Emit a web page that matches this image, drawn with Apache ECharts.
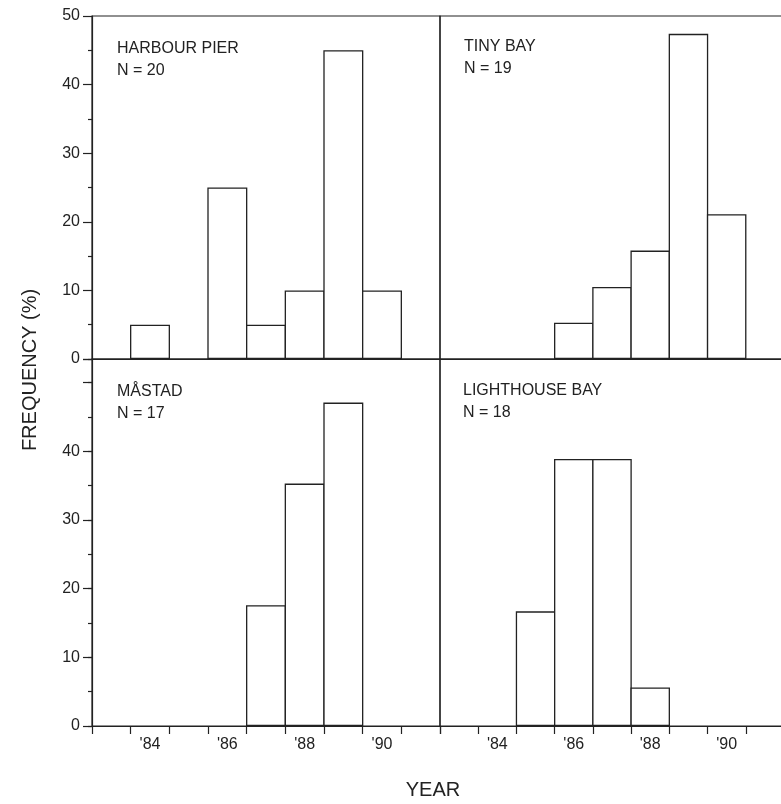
<!DOCTYPE html>
<html>
<head>
<meta charset="utf-8">
<title>Year-class frequency</title>
<script src="https://cdn.jsdelivr.net/npm/echarts@6/dist/echarts.min.js"></script>
<style>
  html, body { margin: 0; padding: 0; background: #fff; }
  #chart { width: 781px; height: 804px; }
</style>
</head>
<body>
<div id="chart"></div>
<script>
// year classes, one bin per year
var years = ['83', '84', '85', '86', '87', '88', '89', '90', '91'];
// frequency (%) per year class
var harbourPier   = [0, 5, 0, 25, 5, 10, 45, 10, 0];
var tinyBay       = [0, 0, 0, 5.3, 10.5, 15.8, 47.4, 21.1, 0];
var mastad        = [0, 0, 0, 0, 17.6, 35.3, 47.1, 0, 0];
var lighthouseBay = [0, 0, 16.7, 38.9, 38.9, 5.6, 0, 0, 0];

var panelNames = ['HARBOUR PIER', 'TINY BAY', 'MÅSTAD', 'LIGHTHOUSE BAY'];
var panelN = [20, 19, 17, 18];
var panelData = [harbourPier, tinyBay, mastad, lighthouseBay];

var yStep = 10;
var topMax = 50;
var bottomMax = 53.45;   // lower row runs up to the upper row's baseline
var lastBottomLabel = 40;

var ink = '#222';
var font = 'Liberation Sans';
var barLine = 1.3;

var grids = [
    { left: 92,  top: 16,  width: 348, height: 343 },
    { left: 440, top: 16,  width: 344, height: 343 },
    { left: 92,  top: 359, width: 348, height: 367 },
    { left: 440, top: 359, width: 344, height: 367 }
];
var titlePos = [[117, 38], [464, 36], [117, 381], [463, 380]];

function xAxisFor(i) {
    var bottom = i >= 2;
    return {
        type: 'category',
        gridIndex: i,
        data: years,
        boundaryGap: true,
        axisLine: { show: true, lineStyle: { color: ink, width: 1.2 } },
        axisTick: { show: bottom, interval: 0, length: 8, lineStyle: { color: ink, width: 1.2 } },
        axisLabel: {
            show: bottom,
            interval: function (idx) { return idx % 2 === 1; },
            formatter: function (v) { return "'" + v; },
            fontSize: 16,
            fontFamily: font,
            color: ink,
            margin: 11
        },
        splitLine: { show: false }
    };
}

var yAxes = [
    {   // top left, labelled
        type: 'value', gridIndex: 0, min: 0, max: topMax, interval: yStep,
        axisLine: { show: true, lineStyle: { color: ink, width: 1.2 } },
        axisTick: { show: true, length: 9, lineStyle: { color: ink, width: 1.2 } },
        minorTick: { show: true, splitNumber: 2, length: 4, lineStyle: { color: ink, width: 1.2 } },
        axisLabel: { fontSize: 16, fontFamily: font, color: ink, margin: 12 },
        splitLine: { show: false }
    },
    { type: 'value', gridIndex: 1, min: 0, max: topMax, show: false, splitLine: { show: false } },
    {   // bottom left, labelled
        type: 'value', gridIndex: 2, min: 0, max: bottomMax, interval: yStep, position: 'left',
        axisLine: { show: true, lineStyle: { color: ink, width: 1.2 } },
        axisTick: { show: true, length: 9, lineStyle: { color: ink, width: 1.2 } },
        axisLabel: {
            fontSize: 16, fontFamily: font, color: ink, margin: 12,
            formatter: function (v) {
                return (v % yStep === 0 && v <= lastBottomLabel) ? String(v) : '';
            }
        },
        splitLine: { show: false }
    },
    { type: 'value', gridIndex: 3, min: 0, max: bottomMax, show: false, splitLine: { show: false } },
    {   // bottom left, half-step minor ticks only
        type: 'value', gridIndex: 2, min: 0, max: bottomMax, interval: yStep / 2, position: 'left', offset: 0,
        axisLine: { show: false },
        axisTick: { show: true, length: 4, lineStyle: { color: ink, width: 1.2 } },
        axisLabel: { show: false },
        splitLine: { show: false }
    }
];

var myChart = echarts.init(document.getElementById('chart'));

var option = {
    animation: false,
    backgroundColor: '#fff',
    textStyle: { fontFamily: font },
    grid: grids.map(function (g) {
        return Object.assign({
            show: true, borderColor: ink, borderWidth: 1.2,
            backgroundColor: 'transparent', outerBoundsMode: 'none', containLabel: false
        }, g);
    }),
    title: panelNames.map(function (name, i) {
        return {
            text: name + '\nN = ' + panelN[i],
            left: titlePos[i][0],
            top: titlePos[i][1],
            padding: 0,
            textStyle: { fontSize: 16, fontWeight: 'normal', color: ink, lineHeight: 22, fontFamily: font }
        };
    }),
    xAxis: [0, 1, 2, 3].map(xAxisFor),
    yAxis: yAxes,
    series: panelData.map(function (d, i) {
        return {
            type: 'bar',
            xAxisIndex: i,
            yAxisIndex: i,
            // bars fill the whole year bin; echarts insets the border, so widen by the line
            barWidth: grids[i].width / years.length + barLine,
            silent: true,
            itemStyle: { color: '#fff', borderColor: ink, borderWidth: barLine },
            data: d.map(function (v) { return v === 0 ? null : v; })
        };
    }),
    graphic: [
        {
            type: 'text', x: 30, y: 370, rotation: Math.PI / 2,
            style: { text: 'FREQUENCY (%)', fill: ink, fontSize: 20, fontFamily: font, align: 'center', verticalAlign: 'middle' }
        },
        {
            type: 'text', x: 433, y: 790,
            style: { text: 'YEAR', fill: ink, fontSize: 20, fontFamily: font, align: 'center', verticalAlign: 'middle' }
        }
    ]
};

myChart.setOption(option);
</script>
</body>
</html>
